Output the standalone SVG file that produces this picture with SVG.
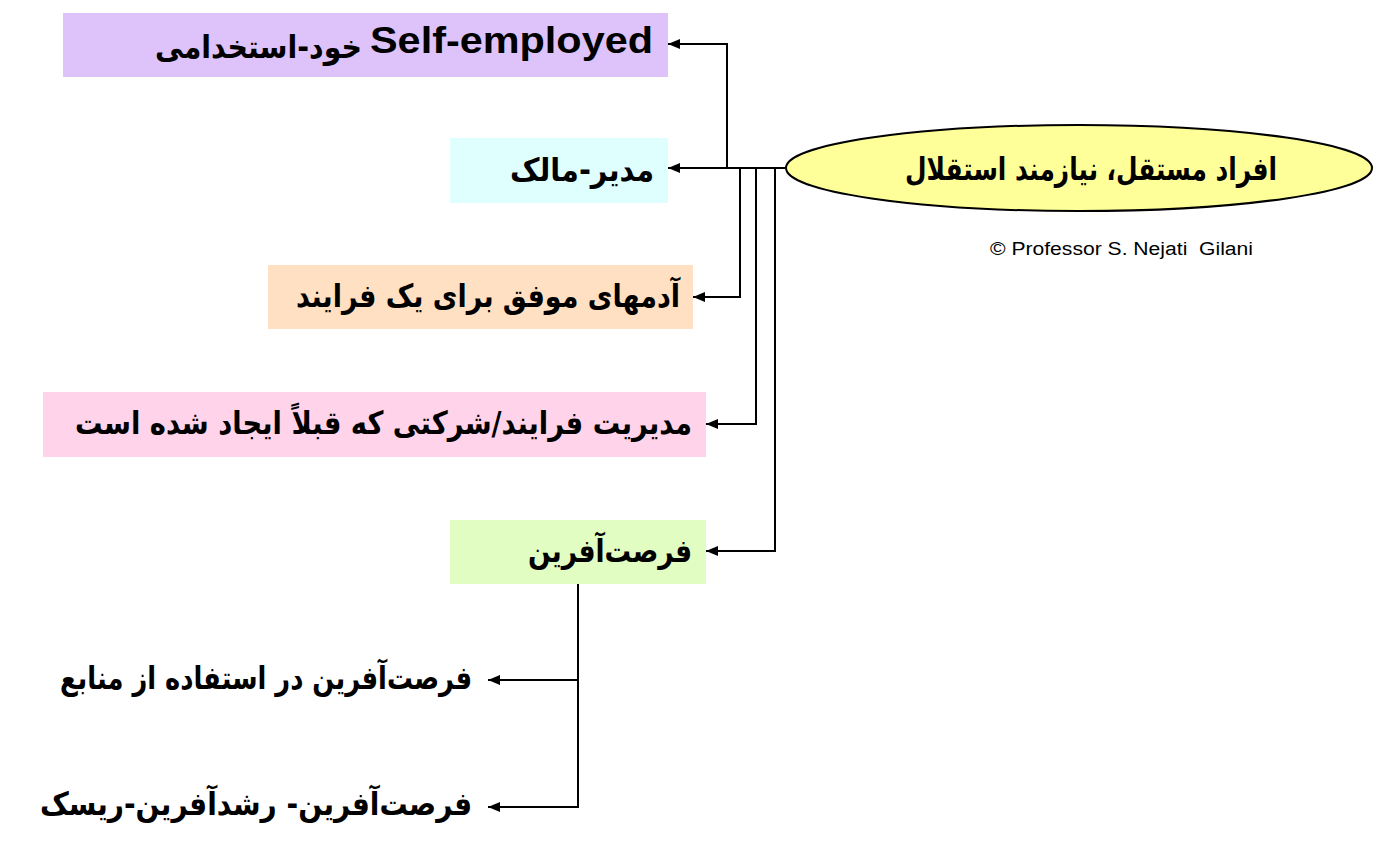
<svg xmlns="http://www.w3.org/2000/svg" width="1376" height="862" viewBox="0 0 1376 862">
<defs>
<style>
.fa{font-family:"DejaVu Sans",sans-serif;font-weight:bold;font-size:32px;fill:#000;text-anchor:end}
.en{font-family:"Liberation Sans",Arial,sans-serif;font-weight:bold;fill:#000;text-anchor:end}
.cn{fill:none;stroke:#000;stroke-width:2}
.ar{fill:none;stroke:#000;stroke-width:2;marker-end:url(#ah)}
</style>
<marker id="ah" viewBox="0 0 12 10" refX="12" refY="5" markerWidth="12" markerHeight="10" markerUnits="userSpaceOnUse" orient="auto">
<path d="M0,0 L12,5 L0,10 z" fill="#000"/>
</marker>
</defs>
<rect width="1376" height="862" fill="#fff"/>

<g id="root">
<ellipse cx="1079" cy="168" rx="293" ry="43" fill="#FFFF99" stroke="#000" stroke-width="2"/>
<text class="fa" x="1277" y="180" textLength="372" lengthAdjust="spacingAndGlyphs">افراد مستقل، نیازمند استقلال</text>
</g>

<g id="copyright">
<text x="990" y="255" xml:space="preserve" font-family="Liberation Sans, Arial, sans-serif" font-size="18" fill="#000" textLength="263" lengthAdjust="spacingAndGlyphs">© Professor S. Nejati  Gilani</text>
</g>

<g id="self-employed">
<rect x="63" y="13" width="605" height="64" fill="#DEC3FA"/>
<text class="en" x="653" y="53" font-size="36" textLength="283" lengthAdjust="spacingAndGlyphs">Self-employed</text>
<text class="fa" x="362" y="58" font-size="28" textLength="207" lengthAdjust="spacingAndGlyphs">خود-استخدامی</text>
</g>

<g id="owner-manager">
<rect x="450" y="138" width="218" height="65" fill="#DFFFFF"/>
<text class="fa" x="654" y="181" textLength="144" lengthAdjust="spacingAndGlyphs">مدیر-مالک</text>
</g>

<g id="process-people">
<rect x="268" y="265" width="425" height="64" fill="#FFE0C2"/>
<text class="fa" x="680" y="307" textLength="384" lengthAdjust="spacingAndGlyphs">آدمهای موفق برای یک فرایند</text>
</g>

<g id="manager-existing">
<rect x="43" y="392" width="663" height="65" fill="#FFD3E9"/>
<text class="fa" x="692" y="434" textLength="617" lengthAdjust="spacingAndGlyphs">مدیریت فرایند/شرکتی که قبلاً ایجاد شده است</text>
</g>

<g id="opportunity">
<rect x="450" y="520" width="256" height="64" fill="#E2FDC2"/>
<text class="fa" x="692" y="562" textLength="164" lengthAdjust="spacingAndGlyphs">فرصت‌آفرین</text>
</g>

<g id="opp-resources">
<text class="fa" x="472" y="689" textLength="412" lengthAdjust="spacingAndGlyphs">فرصت‌آفرین در استفاده از منابع</text>
</g>

<g id="opp-growth-risk">
<text class="fa" x="472" y="815" textLength="432" lengthAdjust="spacingAndGlyphs">فرصت‌آفرین- رشدآفرین-ریسک</text>
</g>

<g id="connectors">
<path class="cn" d="M785,168 H727"/>
<path class="ar" d="M727,168 V44 H668"/>
<path class="ar" d="M727,168 H668"/>
<path class="ar" d="M740,168 V297 H693"/>
<path class="ar" d="M756,168 V424 H706"/>
<path class="ar" d="M775,168 V551 H706"/>
<path class="cn" d="M578,584 V680"/>
<path class="ar" d="M578,680 H488"/>
<path class="ar" d="M578,680 V807 H488"/>
</g>
</svg>
